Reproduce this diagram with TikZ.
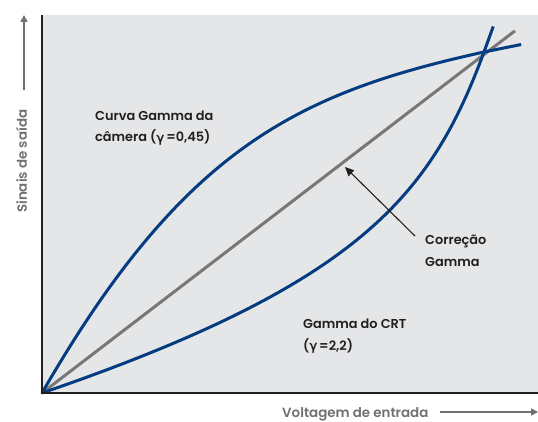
\documentclass[tikz,border=0pt]{standalone}
\usepackage{fontspec}
\setmainfont{Poppins}[UprightFont=* SemiBold]
\newfontfamily\gk{DejaVu Sans}[FakeBold=1.5]
\usetikzlibrary{arrows.meta}
\definecolor{bg}{HTML}{E5E6E8}
\definecolor{navy}{HTML}{053B80}
\definecolor{midgray}{HTML}{777777}
\definecolor{lblgray}{HTML}{707070}
\definecolor{ink}{HTML}{231F20}
\begin{document}
\begin{tikzpicture}[x=1pt,y=-1pt,
  curve/.style={navy, line width=3pt},
  diag/.style={midgray, line width=3pt},
  axis/.style={ink, line width=2.4pt},
  lbl/.style={font=\fontsize{12.9}{15}\selectfont, text=ink, anchor=base west, inner sep=0pt},
  axlbl/.style={font=\fontsize{13.4}{15}\selectfont, text=lblgray, inner sep=0pt},
  axarrow/.style={lblgray, line width=1.6pt, -{Triangle[length=7pt,width=7pt]}},
  pointer/.style={ink, line width=1.1pt, -{Triangle[length=9pt,width=8pt]}}]
\useasboundingbox (0,0) rectangle (538,422);
\fill[bg] (42,15) rectangle (538,393);
\coordinate (O) at (42,393);
\coordinate (ytop) at (42,15);
\coordinate (xend) at (538,393);
\coordinate (xstart) at (40.8,393);
% curves in normalised coordinates: (0,0) = origin, (1,1) = crossing point
\begin{scope}[shift={(O)}, x={(442pt,0pt)}, y={(0pt,341pt)}]
  \coordinate (one) at (1,1);
  \coordinate (dend) at (1.07,1.062);
  \draw[diag] (0,0) -- (dend);
  \draw[curve] (0,0) .. controls (0.32,0.72) and (0.58,0.88) .. (one) -- (1.084,1.022);
  \draw[curve] (0,0) .. controls (0.72,0.32) and (0.88,0.58) .. (one) -- (1.021,1.075);
\end{scope}
\draw[axis] (ytop) -- (O);
\draw[axis] (xstart) -- (xend);
% labels
\node[lbl] (cam1) at (95,121) {Curva Gamma da};
\node[lbl] (cam2) at (95,142) {câmera ({\gk γ}\,=0,45)};
\node[lbl] (cor1) at (425,244) {Correção};
\node[lbl] (cor2) at (425,266) {Gamma};
\node[lbl] (crt1) at (303,328) {Gamma do CRT};
\node[lbl] (crt2) at (303,350) {({\gk γ}\,=2,2)};
\coordinate (ptail) at (415,236);
\coordinate (ptip) at (345,167);
\draw[pointer] (ptail) -- (ptip);
% axis labels
\node[axlbl, anchor=base west] (xl) at (282,417.5) {Voltagem de entrada};
\coordinate (xa1) at (440,412);
\coordinate (xa2) at (538,412);
\draw[axarrow] (xa1) -- (xa2);
\node[axlbl, rotate=90, anchor=base west] (yl) at (27,213) {Sinais de saída};
\coordinate (ya1) at (24,90);
\coordinate (ya2) at (24,15);
\draw[axarrow] (ya1) -- (ya2);
\end{tikzpicture}
\end{document}
